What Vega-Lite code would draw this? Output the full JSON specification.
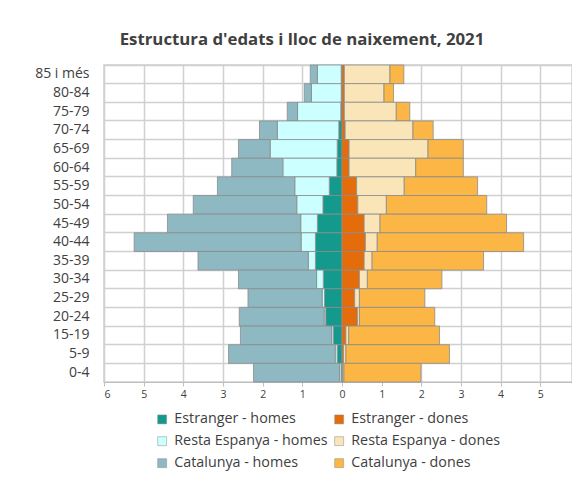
{
  "$schema": "https://vega.github.io/schema/vega-lite/v6.json",
  "width": 468,
  "height": 317,
  "autosize": {"type": "none"},
  "padding": {"left": 104, "top": 65, "right": 0, "bottom": 104},
  "background": "white",
  "title": {
    "text": "Estructura d'edats i lloc de naixement, 2021",
    "anchor": "middle",
    "dx": -36,
    "offset": 16,
    "font": "Open Sans",
    "fontSize": 16.8,
    "fontWeight": "bold",
    "color": "#404040"
  },
  "data": {
    "values": [
      {"grup": "85 i més", "Estranger - homes": -0.02, "Resta Espanya - homes": -0.6, "Catalunya - homes": -0.18, "Estranger - dones": 0.06, "Resta Espanya - dones": 1.15, "Catalunya - dones": 0.35},
      {"grup": "80-84", "Estranger - homes": -0.02, "Resta Espanya - homes": -0.75, "Catalunya - homes": -0.18, "Estranger - dones": 0.06, "Resta Espanya - dones": 1.0, "Catalunya - dones": 0.24},
      {"grup": "75-79", "Estranger - homes": -0.03, "Resta Espanya - homes": -1.09, "Catalunya - homes": -0.26, "Estranger - dones": 0.06, "Resta Espanya - dones": 1.31, "Catalunya - dones": 0.34},
      {"grup": "70-74", "Estranger - homes": -0.08, "Resta Espanya - homes": -1.55, "Catalunya - homes": -0.45, "Estranger - dones": 0.08, "Resta Espanya - dones": 1.71, "Catalunya - dones": 0.51},
      {"grup": "65-69", "Estranger - homes": -0.12, "Resta Espanya - homes": -1.69, "Catalunya - homes": -0.8, "Estranger - dones": 0.18, "Resta Espanya - dones": 1.99, "Catalunya - dones": 0.89},
      {"grup": "60-64", "Estranger - homes": -0.13, "Resta Espanya - homes": -1.36, "Catalunya - homes": -1.29, "Estranger - dones": 0.18, "Resta Espanya - dones": 1.68, "Catalunya - dones": 1.2},
      {"grup": "55-59", "Estranger - homes": -0.32, "Resta Espanya - homes": -0.87, "Catalunya - homes": -1.95, "Estranger - dones": 0.37, "Resta Espanya - dones": 1.2, "Catalunya - dones": 1.85},
      {"grup": "50-54", "Estranger - homes": -0.48, "Resta Espanya - homes": -0.66, "Catalunya - homes": -2.61, "Estranger - dones": 0.4, "Resta Espanya - dones": 0.72, "Catalunya - dones": 2.53},
      {"grup": "45-49", "Estranger - homes": -0.62, "Resta Espanya - homes": -0.42, "Catalunya - homes": -3.36, "Estranger - dones": 0.56, "Resta Espanya - dones": 0.4, "Catalunya - dones": 3.19},
      {"grup": "40-44", "Estranger - homes": -0.67, "Resta Espanya - homes": -0.36, "Catalunya - homes": -4.21, "Estranger - dones": 0.59, "Resta Espanya - dones": 0.3, "Catalunya - dones": 3.69},
      {"grup": "35-39", "Estranger - homes": -0.67, "Resta Espanya - homes": -0.18, "Catalunya - homes": -2.78, "Estranger - dones": 0.56, "Resta Espanya - dones": 0.2, "Catalunya - dones": 2.81},
      {"grup": "30-34", "Estranger - homes": -0.47, "Resta Espanya - homes": -0.17, "Catalunya - homes": -1.97, "Estranger - dones": 0.44, "Resta Espanya - dones": 0.2, "Catalunya - dones": 1.88},
      {"grup": "25-29", "Estranger - homes": -0.44, "Resta Espanya - homes": -0.06, "Catalunya - homes": -1.87, "Estranger - dones": 0.32, "Resta Espanya - dones": 0.12, "Catalunya - dones": 1.65},
      {"grup": "20-24", "Estranger - homes": -0.41, "Resta Espanya - homes": -0.04, "Catalunya - homes": -2.14, "Estranger - dones": 0.39, "Resta Espanya - dones": 0.05, "Catalunya - dones": 1.9},
      {"grup": "15-19", "Estranger - homes": -0.22, "Resta Espanya - homes": -0.04, "Catalunya - homes": -2.3, "Estranger - dones": 0.1, "Resta Espanya - dones": 0.07, "Catalunya - dones": 2.29},
      {"grup": "5-9", "Estranger - homes": -0.12, "Resta Espanya - homes": -0.05, "Catalunya - homes": -2.69, "Estranger - dones": 0.04, "Resta Espanya - dones": 0.06, "Catalunya - dones": 2.61},
      {"grup": "0-4", "Estranger - homes": -0.02, "Resta Espanya - homes": -0.04, "Catalunya - homes": -2.17, "Estranger - dones": 0.02, "Resta Espanya - dones": 0.03, "Catalunya - dones": 1.94}
    ]
  },
  "transform": [
    {"fold": ["Estranger - homes", "Estranger - dones", "Resta Espanya - homes", "Resta Espanya - dones", "Catalunya - homes", "Catalunya - dones"], "as": ["serie", "valor"]},
    {"calculate": "indexof(['Estranger', 'Resta', 'Catalunya'], split(datum.serie, ' ')[0])", "as": "ordre"}
  ],
  "mark": {"type": "bar", "stroke": "#8c8c8c", "strokeWidth": 0.8},
  "encoding": {
    "y": {
      "field": "grup",
      "type": "nominal",
      "sort": ["85 i més", "80-84", "75-79", "70-74", "65-69", "60-64", "55-59", "50-54", "45-49", "40-44", "35-39", "30-34", "25-29", "20-24", "15-19", "5-9", "0-4"],
      "scale": {"paddingInner": 0, "paddingOuter": 0},
      "axis": {
        "title": null,
        "ticks": false,
        "domain": false,
        "grid": true,
        "bandPosition": 0,
        "gridColor": "#d0d0d0",
        "gridWidth": 1.5,
        "labelPadding": 15,
        "labelFont": "Open Sans",
        "labelFontSize": 14,
        "labelColor": "#404040"
      }
    },
    "x": {
      "field": "valor",
      "type": "quantitative",
      "stack": "zero",
      "scale": {"domain": [-6, 5.8], "nice": false, "zero": false},
      "axis": {
        "title": null,
        "values": [-6, -5, -4, -3, -2, -1, 0, 1, 2, 3, 4, 5],
        "labelExpr": "abs(datum.value)",
        "grid": true,
        "gridColor": "#d0d0d0",
        "gridWidth": 1.5,
        "domainColor": "#bfbfbf",
        "tickColor": "#bfbfbf",
        "tickSize": 4,
        "labelPadding": 3,
        "labelFont": "Open Sans",
        "labelFontSize": 10.5,
        "labelColor": "#404040"
      }
    },
    "order": {"field": "ordre", "type": "quantitative", "sort": "ascending"},
    "color": {
      "field": "serie",
      "type": "nominal",
      "scale": {
        "domain": ["Estranger - homes", "Resta Espanya - homes", "Catalunya - homes", "Estranger - dones", "Resta Espanya - dones", "Catalunya - dones"],
        "range": ["#139a8d", "#ccffff", "#8eb8c2", "#e46c0a", "#fae5b8", "#fcb646"]
      },
      "legend": {
        "title": null,
        "orient": "none",
        "legendX": 51,
        "legendY": 347,
        "columns": 2,
        "columnPadding": 4,
        "rowPadding": 7,
        "symbolType": "square",
        "symbolSize": 80,
        "symbolStrokeColor": "#8c8c8c",
        "symbolStrokeWidth": 0.5,
        "labelOffset": 5,
        "labelFont": "Open Sans",
        "labelFontSize": 14.3,
        "labelColor": "#404040"
      }
    }
  },
  "config": {
    "view": {"stroke": "#d0d0d0", "strokeWidth": 1.5}
  }
}
